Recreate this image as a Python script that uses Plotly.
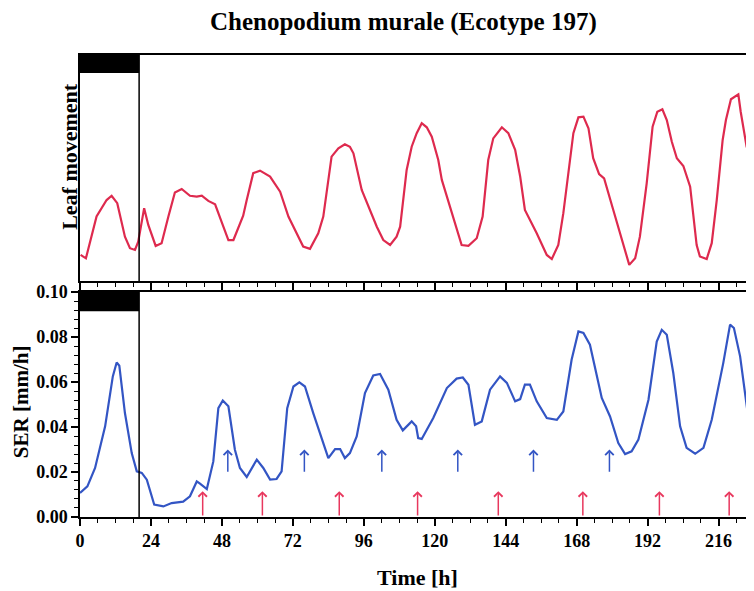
import plotly.graph_objects as go
from plotly.subplots import make_subplots

# ---- data ----
leaf_t = [0.2, 2.0, 5.6, 9.0, 10.7, 12.6, 15.2, 16.9, 18.6, 19.7, 21.7, 23.1, 25.6, 27.6, 29.9,
          32.1, 34.4, 37.2, 39.5, 41.2, 43.4, 45.7, 48.5, 50.2, 51.9, 55.2, 56.4, 58.6, 60.9,
          64.3, 67.7, 70.5, 75.5, 77.8, 80.6, 82.3, 85.1, 87.4, 89.6, 91.3, 92.5, 95.3, 100.4,
          102.6, 104.9, 107.1, 108.3, 110.5, 112.2, 113.9, 115.6, 117.3, 119.0, 121.2, 122.4,
          124.6, 126.9, 129.1, 131.4, 134.2, 136.2, 138.1, 139.8, 142.7, 144.9, 147.2, 148.9,
          150.5, 154.5, 157.9, 159.6, 161.8, 163.5, 165.2, 166.9, 168.6, 170.3, 172.0, 173.6,
          175.6, 177.3, 180.4, 183.3, 185.8, 187.8, 189.4, 191.7, 193.7, 195.3, 197.0, 198.5,
          200.2, 201.9, 204.1, 206.4, 207.5, 208.6, 209.7, 212.0, 213.7, 215.4, 217.4, 218.5,
          220.2, 222.7, 223.5, 225.5, 226.7]
leaf_v = [11.5, 10.0, 28.5, 35.8, 37.7, 34.4, 19.6, 14.5, 13.7, 17.4, 32.2, 24.8, 15.5, 16.7, 28.5,
          39.1, 40.7, 37.7, 37.3, 37.7, 35.4, 33.9, 24.0, 18.1, 18.1, 28.9, 35.8, 47.7, 48.8,
          46.2, 39.5, 28.5, 15.2, 14.2, 21.1, 28.5, 55.0, 58.7, 60.5, 59.4, 56.5, 40.3, 24.0,
          18.1, 15.9, 19.6, 24.0, 49.1, 59.4, 65.4, 69.8, 68.0, 63.8, 53.5, 44.7,
          35.1, 26.2, 15.9, 15.5, 18.9, 28.5, 53.5, 63.1, 68.0, 65.4, 58.0, 46.2,
          31.4, 21.1, 11.5, 9.7, 15.9, 30.0, 47.7, 65.4, 72.4, 72.7, 67.6, 54.3,
          47.3, 45.4, 31.4, 18.1, 7.1, 10.0, 19.6, 43.2, 68.3, 74.9, 76.0, 71.2,
          61.6, 54.3, 50.9, 41.7, 30.0, 15.9, 10.8, 9.7, 16.7, 35.8, 62.4, 71.2,
          80.4, 82.6, 74.9, 59.4, 55.8]

ser_t = [0.0, 2.5, 5.1, 8.5, 11.1, 12.4, 13.3, 15.2, 17.5, 19.2, 20.9, 22.6, 25.1, 28.2, 31.0,
         34.9, 37.2, 39.5, 40.6, 42.9, 45.1, 46.8, 48.3, 50.2, 52.4, 54.1, 56.4, 59.8, 62.0,
         64.3, 66.5, 68.2, 70.1, 72.2, 74.2, 76.1, 78.9, 81.8, 84.0, 86.3, 88.0, 89.6, 91.3,
         93.6, 96.4, 99.2, 101.5, 104.3, 107.1, 109.2, 112.2, 113.7, 114.4, 115.6, 119.5,
         124.1, 127.4, 129.5, 131.4, 133.6, 135.9, 138.7, 142.1, 144.4, 147.2, 148.9, 150.5,
         152.2, 154.5, 157.9, 161.3, 163.5, 166.3, 168.6, 170.3, 172.5, 176.5, 179.3, 182.1,
         184.4, 186.6, 188.9, 192.3, 195.1, 196.8, 198.5, 200.7, 203.0, 205.2, 208.1, 210.9,
         213.7, 217.6, 219.9, 221.2, 223.3, 226.1]
ser_v = [0.0107, 0.0136, 0.0218, 0.0403, 0.0625, 0.0687, 0.0672, 0.0462, 0.0284, 0.0203, 0.0196,
         0.0166, 0.0055, 0.0047, 0.0062, 0.0068, 0.0092, 0.0158, 0.0148, 0.0124, 0.0247, 0.0484,
         0.0518, 0.0492, 0.0299, 0.0218, 0.0178, 0.0255, 0.0218, 0.0166, 0.0169, 0.0203, 0.0484,
         0.0580, 0.0598, 0.0580, 0.0462, 0.0344, 0.0262, 0.0302, 0.0302, 0.0262, 0.0284, 0.0358,
         0.0551, 0.0629, 0.0636, 0.0566, 0.0432, 0.0385, 0.0425, 0.0403, 0.0351, 0.0347, 0.0440,
         0.0573, 0.0615, 0.0620, 0.0588, 0.0410, 0.0425, 0.0566, 0.0625, 0.0596, 0.0514, 0.0524,
         0.0588, 0.0588, 0.0514, 0.0440, 0.0432, 0.0469, 0.0699, 0.0825, 0.0818, 0.0766, 0.0529,
         0.0447, 0.0329, 0.0280, 0.0292, 0.0344, 0.0521, 0.0780, 0.0832, 0.0810, 0.0640, 0.0403,
         0.0307, 0.0281, 0.0307, 0.0432, 0.0684, 0.0855, 0.0840, 0.0714, 0.0439]

blue_arrow_t = [50.0, 75.9, 102.1, 127.8, 153.4, 179.1]
red_arrow_t = [41.5, 61.7, 87.7, 114.2, 141.5, 170.1, 196.0, 219.6]
blue_arrow_tail, blue_arrow_head = 0.0195, 0.0300
red_arrow_tail, red_arrow_head = 0.0, 0.0115

dark_end = 20          # end of initial dark period [h]
x_ticks = list(range(0, 217, 24))

RED = "#de2a4e"
BLUE = "#3355c4"
FONT = "Liberation Serif"

fig = make_subplots(rows=2, cols=1, shared_xaxes=False, vertical_spacing=0.0)

fig.add_trace(go.Scatter(x=leaf_t, y=leaf_v, mode="lines",
                         line=dict(color=RED, width=2.2), showlegend=False), row=1, col=1)
fig.add_trace(go.Scatter(x=ser_t, y=ser_v, mode="lines",
                         line=dict(color=BLUE, width=2.2), showlegend=False), row=2, col=1)

# dark-period bars and boundary lines
fig.add_shape(type="rect", xref="x", yref="y domain", x0=0, x1=dark_end, y0=0.92, y1=1,
              fillcolor="black", line=dict(width=0))
fig.add_shape(type="line", xref="x", yref="y domain", x0=dark_end, x1=dark_end, y0=0, y1=1,
              line=dict(color="black", width=1.5))
fig.add_shape(type="rect", xref="x2", yref="y2 domain", x0=0, x1=dark_end, y0=0.915, y1=1,
              fillcolor="black", line=dict(width=0))
fig.add_shape(type="line", xref="x2", yref="y2 domain", x0=dark_end, x1=dark_end, y0=0, y1=1,
              line=dict(color="black", width=1.5))

for t in blue_arrow_t:
    fig.add_annotation(x=t, y=blue_arrow_head, ax=t, ay=blue_arrow_tail, xref="x2", yref="y2",
                       axref="x2", ayref="y2", text="", showarrow=True, arrowhead=4,
                       arrowsize=1.1, arrowwidth=1.5, arrowcolor=BLUE)
for t in red_arrow_t:
    fig.add_annotation(x=t, y=red_arrow_head, ax=t, ay=red_arrow_tail, xref="x2", yref="y2",
                       axref="x2", ayref="y2", text="", showarrow=True, arrowhead=4,
                       arrowsize=1.1, arrowwidth=1.5, arrowcolor="#e8385e")

xcommon = dict(range=[0, 228], showline=True, linecolor="black", linewidth=1.5, mirror=True,
               showgrid=False, zeroline=False, ticks="outside", tickcolor="black",
               tickwidth=1.5, ticklen=7, tickvals=x_ticks,
               minor=dict(dtick=6, tick0=0, ticks="outside", ticklen=4, tickcolor="black",
                          tickwidth=1.2, showgrid=False))
fig.update_xaxes(**xcommon, showticklabels=False, row=1, col=1)
fig.update_xaxes(**xcommon, showticklabels=True,
                 tickfont=dict(family=FONT, size=18, color="black", weight="bold"),
                 row=2, col=1)

fig.update_yaxes(range=[0, 100], showline=True, linecolor="black", linewidth=1.5,
                 showgrid=False, zeroline=False, showticklabels=False, ticks="",
                 domain=[0.511, 1.0], row=1, col=1)
fig.update_yaxes(range=[0, 0.1], showline=True, linecolor="black", linewidth=1.5,
                 showgrid=False, zeroline=False, ticks="outside", tickcolor="black",
                 tickwidth=1.5, ticklen=7, dtick=0.02, tickformat=".2f",
                 tickfont=dict(family=FONT, size=18, color="black", weight="bold"),
                 minor=dict(dtick=0.004, ticks="outside", ticklen=4, tickcolor="black",
                            tickwidth=1.2, showgrid=False),
                 domain=[0.0, 0.487], row=2, col=1)

axis_title_font = dict(family=FONT, size=21, color="black", weight="bold")
fig.add_annotation(text="Leaf movement", xref="paper", yref="paper", x=-0.016, y=0.78,
                   xanchor="center", yanchor="middle", textangle=-90, showarrow=False,
                   font=dict(family=FONT, size=22, color="black", weight="bold"))
fig.add_annotation(text="SER [mm/h]", xref="paper", yref="paper", x=-0.088, y=0.25,
                   xanchor="center", yanchor="middle", textangle=-90, showarrow=False,
                   font=axis_title_font)
fig.add_annotation(text="Time [h]", xref="paper", yref="paper", x=0.5, y=-0.132,
                   xanchor="center", yanchor="middle", showarrow=False,
                   font=dict(family=FONT, size=22, color="black", weight="bold"))

# the page adds an 8px body margin, so the figure is 8px smaller and margins 8px less
fig.update_layout(
    width=746, height=583,
    margin=dict(l=72, r=0, t=47, b=74),
    paper_bgcolor="white", plot_bgcolor="white",
    title=dict(text="Chenopodium murale (Ecotype 197)", x=0.53, xanchor="center",
               y=0.978, yanchor="middle",
               font=dict(family=FONT, size=25, color="black", weight="bold")),
)

fig.write_html("out.html")
